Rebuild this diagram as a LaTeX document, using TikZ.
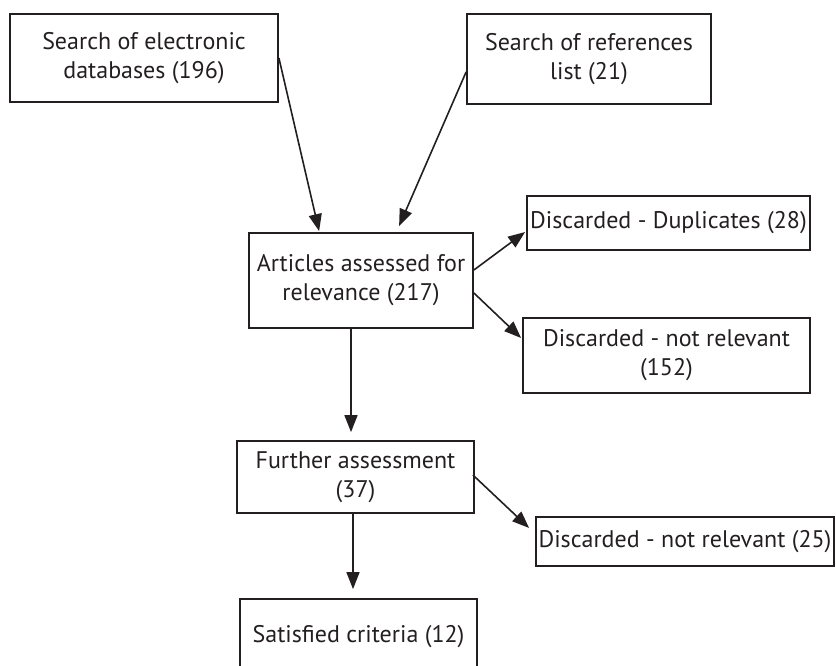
\documentclass[tikz,border=0pt]{standalone}
\usepackage{fontspec}
\setmainfont{PT Sans}
\usetikzlibrary{arrows.meta}
\definecolor{ink}{HTML}{231F20}
\tikzset{
  box/.style={draw=ink, line width=1.8pt, inner sep=0pt, align=center, text=ink,
    font=\fontsize{24}{29}\selectfont},
  conn/.style={draw=ink, line width=1.6pt, -{Triangle[length=17pt,width=13pt]}}
}
\begin{document}
\begin{tikzpicture}[x=1pt,y=-1pt]
\useasboundingbox (0,0) rectangle (836,666);
\node[box, minimum width=268pt, minimum height=88pt] (b1) at (144,58) {Search of electronic\\databases (196)};
\node[box, minimum width=244pt, minimum height=90pt] (b2) at (589,59) {Search of references\\list (21)};
\node[box, minimum width=224pt, minimum height=95pt] (b3) at (361,280.5) {Articles assessed for\\relevance (217)};
\node[box, minimum width=283pt, minimum height=54pt] (b4) at (668.5,223) {Discarded - Duplicates (28)};
\node[box, minimum width=287pt, minimum height=75pt] (b5) at (666.5,355.5) {Discarded - not relevant\\(152)};
\node[box, minimum width=237pt, minimum height=72pt] (b6) at (355.5,477) {Further assessment\\(37)};
\node[box, minimum width=298pt, minimum height=49pt] (b7) at (685,541.5) {Discarded - not relevant (25)};
\node[box, minimum width=237pt, minimum height=76pt] (b8) at (358.5,637) {Satisfied criteria (12)};

\draw[conn] (b1.east) -- ([xshift=71pt,yshift=1pt]b3.north west);
\draw[conn] ([yshift=-13pt]b2.west) -- ([xshift=151pt,yshift=6pt]b3.north west);
\draw[conn] ([yshift=10.5pt]b3.east) -- ([xshift=-1pt,yshift=-9pt]b4.west);
\draw[conn] ([yshift=-12.5pt]b3.east) -- ([xshift=-1pt,yshift=17.5pt]b5.west);
\draw[conn] ([xshift=-10pt]b3.south) -- ([xshift=-4.5pt,yshift=8pt]b6.north);
\draw[conn] ([xshift=-2.5pt]b6.south) -- ([xshift=-5.5pt,yshift=9pt]b8.north);
\draw[conn] ([xshift=-2pt,yshift=2pt]b6.east) -- ([xshift=-6pt,yshift=13.5pt]b7.west);
\end{tikzpicture}
\end{document}
